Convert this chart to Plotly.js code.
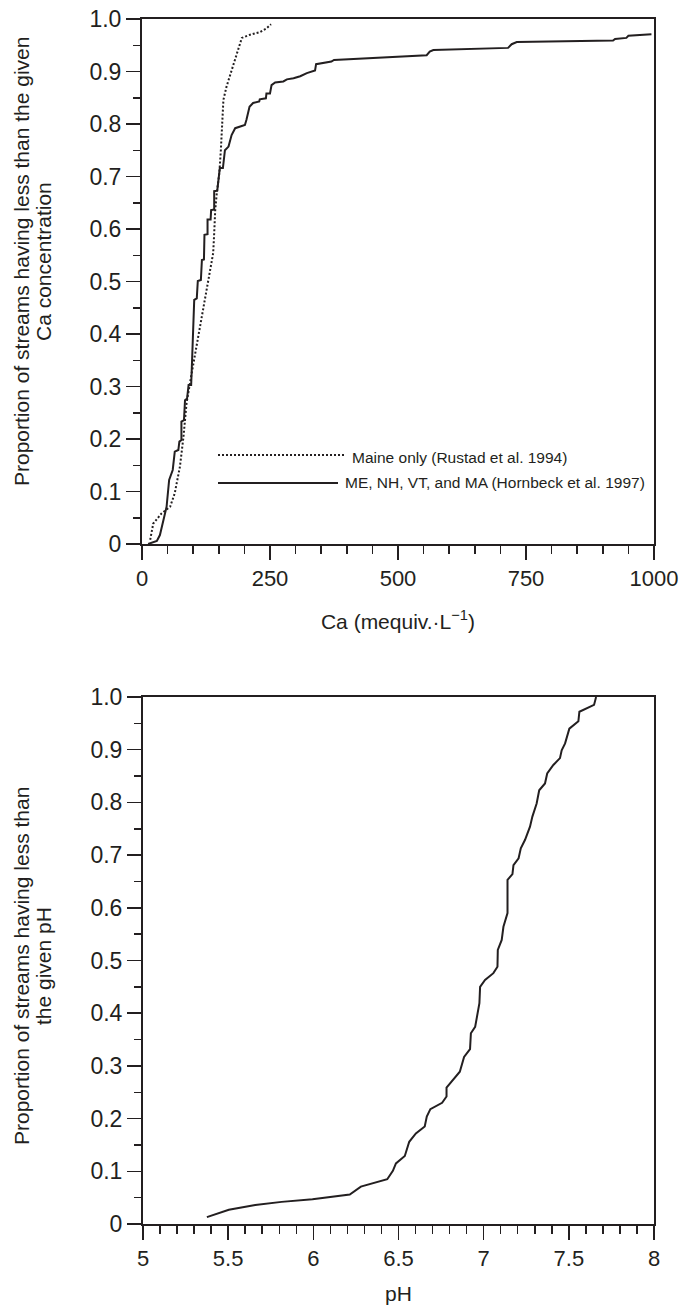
<!DOCTYPE html>
<html>
<head>
<meta charset="utf-8">
<script src="https://cdn.plot.ly/plotly-3.0.1.min.js"></script>
<style>html,body{margin:0;padding:0;background:#fff;}#chart{width:690px;height:1309px;}</style>
</head>
<body>
<div id="chart"></div>
<script>
// ---- Top panel: cumulative proportion of streams vs Ca ----
const maineCa = [16, 22, 38, 55, 64, 74, 81, 87, 97, 104, 110, 117, 126, 133, 139, 141, 143, 146, 151, 154, 159, 165, 188, 195, 211, 230, 243, 252];
const maineProp = [0.008, 0.039, 0.058, 0.071, 0.097, 0.147, 0.204, 0.268, 0.325, 0.363, 0.401, 0.439, 0.484, 0.522, 0.554, 0.592, 0.636, 0.668, 0.706, 0.750, 0.846, 0.871, 0.941, 0.964, 0.970, 0.975, 0.982, 0.990];

const regionCa = [12, 29, 35, 42, 48, 53, 60, 64, 71, 73, 77, 77, 82, 84, 88, 91, 96, 97, 102, 107, 109, 115, 117, 121, 122, 128, 128, 134, 135, 141, 141, 147, 149, 152, 158, 162, 169, 175, 182, 201, 204, 210, 217, 229, 230, 242, 243, 250, 253, 260, 276, 283, 296, 309, 322, 338, 340, 354, 370, 375, 432, 465, 556, 562, 569, 715, 722, 732, 920, 924, 946, 950, 995];
const regionProp = [0, 0.006, 0.017, 0.046, 0.071, 0.122, 0.141, 0.176, 0.179, 0.195, 0.198, 0.233, 0.236, 0.274, 0.277, 0.303, 0.303, 0.328, 0.465, 0.468, 0.501, 0.503, 0.541, 0.542, 0.589, 0.590, 0.618, 0.618, 0.636, 0.637, 0.672, 0.673, 0.690, 0.716, 0.716, 0.750, 0.757, 0.779, 0.792, 0.798, 0.808, 0.833, 0.840, 0.843, 0.847, 0.849, 0.858, 0.858, 0.874, 0.879, 0.881, 0.885, 0.887, 0.891, 0.897, 0.902, 0.914, 0.916, 0.919, 0.922, 0.925, 0.927, 0.931, 0.938, 0.941, 0.945, 0.952, 0.956, 0.959, 0.962, 0.964, 0.968, 0.971];

// ---- Bottom panel: cumulative proportion of streams vs pH ----
const phValues = [5.375, 5.504, 5.659, 5.814, 5.995, 6.214, 6.279, 6.434, 6.467, 6.485, 6.537, 6.563, 6.602, 6.654, 6.666, 6.687, 6.756, 6.782, 6.782, 6.816, 6.860, 6.885, 6.920, 6.925, 6.950, 6.975, 6.979, 7.008, 7.057, 7.081, 7.083, 7.106, 7.116, 7.140, 7.140, 7.169, 7.175, 7.205, 7.218, 7.243, 7.272, 7.286, 7.311, 7.326, 7.360, 7.373, 7.409, 7.448, 7.458, 7.478, 7.503, 7.556, 7.562, 7.648, 7.660];
const phProp = [0.013, 0.027, 0.036, 0.042, 0.047, 0.056, 0.071, 0.085, 0.101, 0.115, 0.129, 0.156, 0.172, 0.185, 0.204, 0.218, 0.230, 0.242, 0.259, 0.272, 0.289, 0.317, 0.332, 0.362, 0.374, 0.419, 0.450, 0.463, 0.476, 0.488, 0.520, 0.539, 0.564, 0.590, 0.653, 0.664, 0.681, 0.694, 0.713, 0.729, 0.754, 0.773, 0.798, 0.823, 0.836, 0.855, 0.871, 0.884, 0.899, 0.912, 0.940, 0.954, 0.972, 0.985, 1.0];

// ---- Tick labels ----
const propTickVals = [0, 0.1, 0.2, 0.3, 0.4, 0.5, 0.6, 0.7, 0.8, 0.9, 1.0];
const propTickText = ["0", "0.1", "0.2", "0.3", "0.4", "0.5", "0.6", "0.7", "0.8", "0.9", "1.0"];
const caTickVals = [0, 250, 500, 750, 1000];
const caTickText = ["0", "250", "500", "750", "1000"];
const phTickVals = [5, 5.5, 6, 6.5, 7, 7.5, 8];
const phTickText = ["5", "5.5", "6", "6.5", "7", "7.5", "8"];

const seriesNames = ["Maine only (Rustad et al. 1994)", "ME, NH, VT, and MA (Hornbeck et al. 1997)"];

const INK = '#231f20';
const FONT = 'Liberation Sans, Arial, Helvetica, sans-serif';

const traces = [
  {x: maineCa, y: maineProp, type: 'scatter', mode: 'lines', name: seriesNames[0],
   line: {color: INK, width: 2, dash: '2px,2px'}, xaxis: 'x', yaxis: 'y', showlegend: false},
  {x: regionCa, y: regionProp, type: 'scatter', mode: 'lines', name: seriesNames[1],
   line: {color: INK, width: 2}, xaxis: 'x', yaxis: 'y', showlegend: false},
  {x: phValues, y: phProp, type: 'scatter', mode: 'lines', name: 'pH',
   line: {color: INK, width: 2}, xaxis: 'x2', yaxis: 'y2', showlegend: false}
];

function xAxisBase(domain, anchor) {
  return {
    domain: domain, anchor: anchor, showgrid: false, zeroline: false,
    showline: true, mirror: true, linecolor: INK, linewidth: 2,
    ticks: 'outside', ticklen: 14, tickwidth: 1.5, tickcolor: INK,
    tickmode: 'array', ticklabelstandoff: 0,
    tickfont: {family: FONT, size: 22, color: INK}
  };
}
function yAxisBase(domain, anchor) {
  return {
    domain: domain, anchor: anchor, range: [0, 1], showgrid: false, zeroline: false,
    showline: true, mirror: true, linecolor: INK, linewidth: 2,
    ticks: 'outside', ticklen: 14, tickwidth: 1.5, tickcolor: INK,
    tickmode: 'array', tickvals: propTickVals, ticktext: propTickText,
    ticklabelstandoff: 0,
    tickfont: {family: FONT, size: 23, color: INK},
    minor: {tickmode: 'linear', tick0: 0, dtick: 0.05, ticks: 'outside', ticklen: 7, tickwidth: 1.5, tickcolor: INK}
  };
}

const xa = xAxisBase([142/690, 654/690], 'y');
xa.range = [0, 1000]; xa.tickvals = caTickVals; xa.ticktext = caTickText;
xa.minor = {tickmode: 'linear', tick0: 0, dtick: 50, ticks: 'outside', ticklen: 8, tickwidth: 1.5, tickcolor: INK};
xa.title = {text: 'Ca (mequiv.·L<sup>−1</sup>)', font: {family: FONT, size: 21, color: INK}, standoff: 24};

const xb = xAxisBase([143/690, 654/690], 'y2');
xb.range = [5, 8]; xb.tickvals = phTickVals; xb.ticktext = phTickText;
xb.minor = {tickmode: 'linear', tick0: 5, dtick: 0.1, ticks: 'outside', ticklen: 8, tickwidth: 1.5, tickcolor: INK};
xb.title = {text: 'pH', font: {family: FONT, size: 21, color: INK}, standoff: 16};

const ya = yAxisBase([1 - 544/1309, 1 - 19/1309], 'x');
const yb = yAxisBase([1 - 1224/1309, 1 - 697/1309], 'x2');

function px(v) { return v / 690; }
function py(v) { return 1 - v / 1309; }

const titleFont = {family: FONT, size: 21, color: INK};
const legendFont = {family: FONT, size: 15.5, color: INK};
const annotations = [
  {text: 'Proportion of streams having less than the given', x: px(22), y: py(262), xref: 'paper', yref: 'paper',
   textangle: -90, showarrow: false, xanchor: 'center', yanchor: 'middle', font: titleFont},
  {text: 'Ca concentration', x: px(44), y: py(262), xref: 'paper', yref: 'paper',
   textangle: -90, showarrow: false, xanchor: 'center', yanchor: 'middle', font: titleFont},
  {text: 'Proportion of streams having less than', x: px(22), y: py(966), xref: 'paper', yref: 'paper',
   textangle: -90, showarrow: false, xanchor: 'center', yanchor: 'middle', font: titleFont},
  {text: 'the given pH', x: px(44), y: py(966), xref: 'paper', yref: 'paper',
   textangle: -90, showarrow: false, xanchor: 'center', yanchor: 'middle', font: titleFont},
  {text: seriesNames[0], x: px(350), y: py(457), xref: 'paper', yref: 'paper', showarrow: false,
   xanchor: 'left', yanchor: 'middle', font: legendFont},
  {text: seriesNames[1], x: px(343), y: py(483), xref: 'paper', yref: 'paper', showarrow: false,
   xanchor: 'left', yanchor: 'middle', font: legendFont}
];

const shapes = [
  {type: 'line', xref: 'paper', yref: 'paper', x0: px(218), x1: px(344), y0: py(455), y1: py(455),
   line: {color: INK, width: 2, dash: '2px,2px'}},
  {type: 'line', xref: 'paper', yref: 'paper', x0: px(218), x1: px(338), y0: py(483), y1: py(483),
   line: {color: INK, width: 2}}
];

const layout = {
  width: 690, height: 1309,
  margin: {l: 0, r: 0, t: 0, b: 0},
  paper_bgcolor: '#ffffff', plot_bgcolor: '#ffffff',
  showlegend: false,
  font: {family: FONT, color: INK},
  xaxis: xa, yaxis: ya, xaxis2: xb, yaxis2: yb,
  annotations: annotations, shapes: shapes
};

Plotly.newPlot('chart', traces, layout, {displayModeBar: false, staticPlot: true});
</script>
</body>
</html>
